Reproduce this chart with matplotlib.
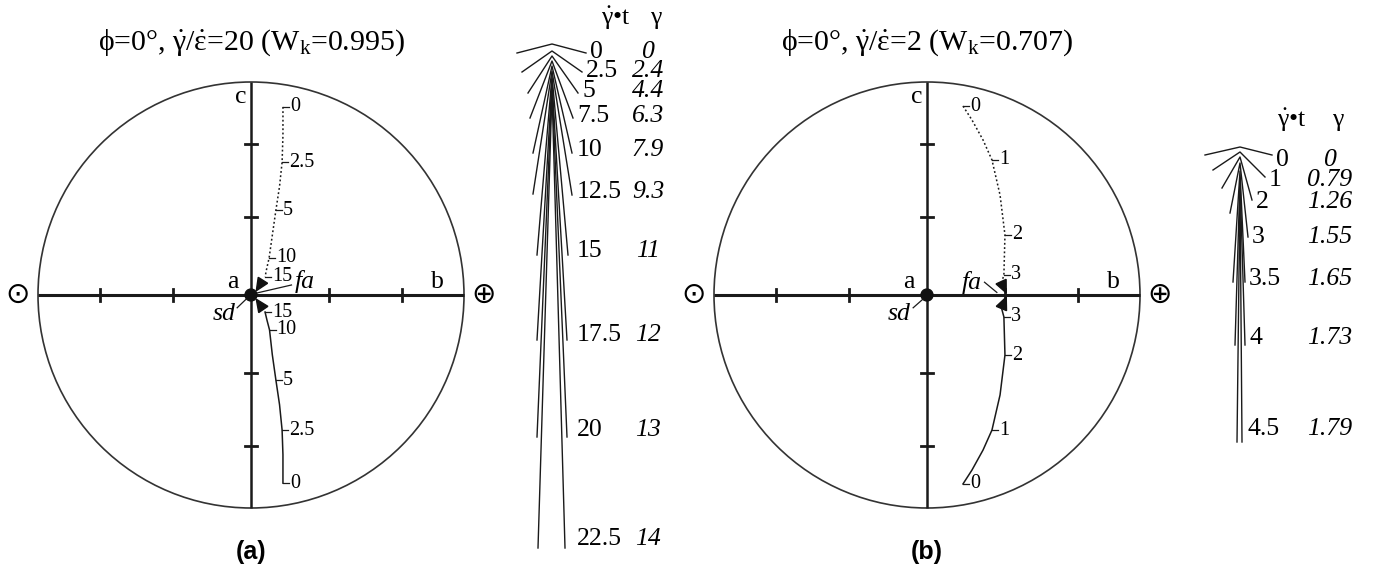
import matplotlib
matplotlib.use("Agg")
import matplotlib.pyplot as plt
from matplotlib.patches import Circle, Polygon
import numpy as np

plt.rcParams['font.family'] = ['Liberation Serif', 'DejaVu Serif', 'DejaVu Sans']
plt.rcParams['mathtext.fontset'] = 'custom'
plt.rcParams['mathtext.rm'] = 'Liberation Serif'
plt.rcParams['mathtext.it'] = 'Liberation Serif:italic'
plt.rcParams['mathtext.bf'] = 'Liberation Serif:bold'
plt.rcParams['mathtext.default'] = 'rm'

W, H, DPI = 1386, 568, 100

# ---------------- stereonet data (unit primitive circle) ----------------
titles = [r'ϕ=0°, $\dot{\mathrm{γ}}$/$\dot{\mathrm{ε}}$=20 (W$_\mathrm{k}$=0.995)',
          r'ϕ=0°, $\dot{\mathrm{γ}}$/$\dot{\mathrm{ε}}$=2 (W$_\mathrm{k}$=0.707)']
panel_tags = ['(a)', '(b)']
axis_ticks = [-0.707, -0.366, 0.366, 0.707]   # 60° and 30° on an equal-area net

# (a) path of the upper (dotted) and lower (solid) axes
a_up_x = [0.150, 0.150, 0.146, 0.134, 0.117, 0.100, 0.085, 0.074, 0.066]
a_up_y = [0.883, 0.750, 0.624, 0.510, 0.399, 0.280, 0.174, 0.125, 0.085]
a_lo_x = [0.150, 0.150, 0.146, 0.134, 0.117, 0.100, 0.087, 0.075, 0.066]
a_lo_y = [-0.883, -0.750, -0.634, -0.515, -0.400, -0.280, -0.164, -0.118, -0.080]
a_mark_idx = [0, 2, 4, 6, 8]
a_mark_txt = ['0', '2.5', '5', '10', '15']
a_tip = [(0.025, 0.020), (0.025, -0.020)]

# (b)
b_up_x = [0.169, 0.211, 0.263, 0.305, 0.343, 0.366, 0.361, 0.350]
b_up_y = [0.887, 0.822, 0.728, 0.634, 0.469, 0.282, 0.094, 0.058]
b_lo_x = [0.169, 0.211, 0.263, 0.305, 0.343, 0.366, 0.361, 0.350]
b_lo_y = [-0.887, -0.822, -0.728, -0.634, -0.469, -0.282, -0.103, -0.062]
b_mark_idx = [0, 3, 5, 6]
b_mark_txt = ['0', '1', '2', '3']
b_tip = [(0.372, 0.010), (0.372, -0.010)]

# ---------------- fold-shape columns (pixel offsets from the first hinge) ----------------
a_strain = ['0', '2.5', '5', '7.5', '10', '12.5', '15', '17.5', '20', '22.5']
a_gamma = ['0', '2.4', '4.4', '6.3', '7.9', '9.3', '11', '12', '13', '14']
a_hinge = [0, 7, 12, 17, 22, 27, 32, 37, 42, 47]
a_end_l = [9, 28, 49, 74, 109, 150, 211, 296, 393, 504]
a_end_r = [9, 28, 49, 74, 109, 151, 211, 296, 393, 504]
a_half_l = [35, 30, 24, 22, 19, 19, 15, 15, 15, 14]
a_half_r = [34, 30, 26, 21, 20, 20, 16, 15, 15, 13]

b_strain = ['0', '1', '2', '3', '3.5', '4', '4.5']
b_gamma = ['0', '0.79', '1.26', '1.55', '1.65', '1.73', '1.79']
b_hinge = [0, 5, 10, 16, 24, 32, 40]
b_end_l = [8, 23, 41, 66, 135, 198, 295]
b_end_r = [8, 30, 53, 90, 135, 198, 295]
b_half_l = [35, 27, 18, 10, 7, 5, 3]
b_half_r = [32, 25, 12, 8, 5, 5, 2]

# ---------------- layout helpers ----------------
fig = plt.figure(figsize=(W / DPI, H / DPI), dpi=DPI)
INK = '#1a1a1a'


def px_axes(x0, y0, x1, y1):
    ax = fig.add_axes([x0 / W, 1 - y1 / H, (x1 - x0) / W, (y1 - y0) / H])
    ax.set_axis_off()
    return ax


R = 213.0
LX, LY = 1.17, 1.33
TXT = dict(fontsize=14.5)
LBL = dict(fontsize=18.5)
COL = dict(fontsize=18.5)


def stereonet(cx, cy, title, tag, up, lo, idx, marks, tips):
    ax = px_axes(cx - LX * R, cy - LY * R, cx + LX * R, cy + LY * R)
    ax.set_xlim(-LX, LX)
    ax.set_ylim(-LY, LY)
    ax.add_patch(Circle((0, 0), 1.0, fill=False, lw=1.2, ec='#333333'))
    ax.plot([-1, 1], [0, 0], color=INK, lw=2.2, solid_capstyle='butt')
    ax.plot([0, 0], [-1, 1], color=INK, lw=1.8, solid_capstyle='butt')
    tl = 0.03
    for t in axis_ticks:
        ax.plot([t, t], [-tl, tl], color=INK, lw=2.0)
        ax.plot([-tl, tl], [t, t], color=INK, lw=2.0)
    ax.add_patch(Circle((0, 0), 0.028, color='#111111', zorder=5))

    ax.text(0, 1.183, title, ha='center', va='center', fontsize=21.5)
    ax.text(0, -1.207, tag, ha='center', va='center', fontsize=18,
            family='Liberation Sans', weight='bold')
    ax.text(-0.05, 0.93, 'c', ha='center', va='center', **LBL)
    ax.text(-0.085, 0.06, 'a', ha='center', va='center', **LBL)
    ax.text(0.876, 0.06, 'b', ha='center', va='center', **LBL)
    ax.text(-1.094, 0, '⊙', ha='center', va='center', fontsize=21,
            family='DejaVu Sans')
    ax.text(1.094, 0, '⊕', ha='center', va='center', fontsize=21,
            family='DejaVu Sans')

    for (xs, ys), style, tip in zip((up, lo), (':', '-'), tips):
        ax.plot(xs, ys, ls=style, color=INK, lw=1.1,
                dashes=(1.2, 1.6) if style == ':' else (None, None))
        # arrowhead from the last point toward the attractor
        p = np.array([xs[-1], ys[-1]])
        q = np.array(tip)
        d = (q - p) / np.hypot(*(q - p))
        n = np.array([-d[1], d[0]])
        L, hw = 0.058, 0.026
        base = q - d * L
        ax.add_patch(Polygon([q, base + n * hw, base - n * hw],
                             closed=True, color='#111111', zorder=6))
        for i, m in zip(idx, marks):
            x, y = xs[i], ys[i]
            ax.plot([x, x + 0.03], [y, y], color=INK, lw=0.9)
            ax.text(x + 0.032, y, m, ha='left', va='center', **TXT)
    return ax


ax_a = stereonet(251, 295, titles[0], panel_tags[0],
                 (a_up_x, a_up_y), (a_lo_x, a_lo_y), a_mark_idx, a_mark_txt,
                 a_tip)
ax_b = stereonet(927, 295, titles[1], panel_tags[1],
                 (b_up_x, b_up_y), (b_lo_x, b_lo_y), b_mark_idx, b_mark_txt,
                 b_tip)

# fa / sd labels with leaders
for ax, fa_txt, fa_lead, sd_txt, sd_lead in (
        (ax_a, (0.25, 0.062), ((0.03, 0.01), (0.19, 0.047)),
         (-0.125, -0.088), ((-0.065, -0.06), (-0.015, -0.012))),
        (ax_b, (0.212, 0.06), ((0.27, 0.06), (0.328, 0.012)),
         (-0.13, -0.088), ((-0.065, -0.06), (-0.022, -0.022)))):
    ax.plot(*zip(*fa_lead), color=INK, lw=0.9)
    ax.plot(*zip(*sd_lead), color=INK, lw=0.9)
    ax.text(*fa_txt, 'fa', ha='center', va='center', style='italic', **LBL)
    ax.text(*sd_txt, 'sd', ha='center', va='center', style='italic', **LBL)


def fold_column(x0, x1, hinge_x, hinge_y, strain, gamma, hinge, end_l, end_r,
                half_l, half_r, lab_min, gamma_x, head_x, head_y, off, k):
    ax = px_axes(x0, 0, x1, H)
    ax.set_xlim(x0 - hinge_x, x1 - hinge_x)
    ax.set_ylim(H - hinge_y, -hinge_y)
    for s, g, hz, el, er, hl, hr in zip(strain, gamma, hinge, end_l, end_r,
                                        half_l, half_r):
        ax.plot([-hl, 0, hr], [el, hz, er], color=INK, lw=1.0)
        lx = max(hr + 4, lab_min)
        ly = er + off - k * er
        ax.text(lx, ly, s, ha='left', va='center', **COL)
        ax.text(gamma_x, ly, g, ha='center', va='center', style='italic',
                **COL)
    ax.text(head_x, head_y, r'$\dot{\mathrm{γ}}$•t', ha='center',
            va='center', **COL)
    ax.text(gamma_x + 8, head_y, 'γ', ha='center', va='center', **COL)
    return ax


fold_column(500, 700, 552, 44, a_strain, a_gamma, a_hinge, a_end_l, a_end_r,
            a_half_l, a_half_r, 25, 96, 64, -26, -1, 0.015)
fold_column(1180, 1386, 1240, 147, b_strain, b_gamma, b_hinge, b_end_l,
            b_end_r, b_half_l, b_half_r, 7, 90, 52, -27, 5, 0.06)

fig.savefig('out.png', dpi=DPI)
